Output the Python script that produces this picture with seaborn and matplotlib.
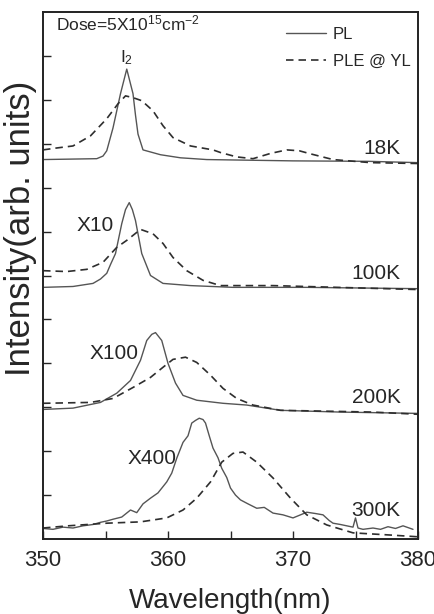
import numpy as np
import pandas as pd
import matplotlib
matplotlib.use("Agg")
import matplotlib.pyplot as plt
import seaborn as sns
from matplotlib.lines import Line2D

# ==========================================
# Data (stacked, offset spectra)
# ==========================================

wl_pl_18 = [350.0, 354.3, 354.8, 355.1, 355.6, 355.9, 356.2, 356.7, 357.2, 357.4, 357.6, 358.0, 359.4, 361.0,
            363.1, 370.0, 376.0, 380.0]
pl_18 = [8.64, 8.66, 8.72, 8.84, 9.36, 9.75, 10.14, 10.7, 10.14, 9.65, 9.22, 8.86, 8.75, 8.68,
         8.64, 8.61, 8.60, 8.57]

wl_ple_18 = [350.0, 351.0, 352.4, 353.8, 355.1, 356.0, 356.6, 357.2, 357.9, 358.8, 359.6, 360.4, 361.8, 363.6,
             364.2, 365.5, 366.8, 368.2, 369.5, 370.5, 371.4, 373.2, 376.2, 380.0]
ple_18 = [8.86, 8.90, 8.95, 9.18, 9.57, 9.91, 10.09, 10.05, 9.98, 9.75, 9.41, 9.14, 8.95, 8.86,
          8.80, 8.70, 8.66, 8.78, 8.86, 8.84, 8.77, 8.64, 8.57, 8.55]

wl_pl_100 = [350.0, 352.4, 354.0, 354.6, 355.1, 355.4, 355.8, 356.3, 356.6, 356.9, 357.15, 357.4, 357.6, 357.9,
             358.6, 359.6, 361.8, 365.2, 371.1, 380.0]
pl_100 = [5.73, 5.75, 5.82, 5.92, 6.05, 6.25, 6.50, 7.18, 7.50, 7.66, 7.50, 7.25, 6.95, 6.50,
          6.00, 5.82, 5.77, 5.73, 5.73, 5.70]

wl_ple_100 = [350.0, 351.9, 353.5, 354.8, 355.9, 356.7, 357.8, 358.8, 359.6, 360.4, 361.5, 362.8, 364.2, 368.4, 380.0]
ple_100 = [6.11, 6.09, 6.14, 6.30, 6.64, 6.80, 7.05, 6.95, 6.73, 6.41, 6.11, 5.89, 5.77, 5.77, 5.68]

wl_pl_200 = [350.0, 352.4, 354.6, 355.9, 357.0, 357.8, 358.3, 358.7, 359.0, 359.5, 360.0, 360.6, 361.2, 362.3,
             364.4, 366.3, 369.0, 373.8, 380.0]
pl_200 = [2.95, 2.98, 3.11, 3.32, 3.61, 4.07, 4.52, 4.66, 4.70, 4.52, 4.00, 3.55, 3.27, 3.16,
          3.09, 3.05, 2.93, 2.89, 2.86]

wl_ple_200 = [350.0, 353.8, 355.6, 357.2, 358.6, 359.6, 360.4, 361.4, 362.3, 363.4, 364.4, 365.5, 366.8, 369.0,
              376.4, 380.0]
ple_200 = [3.09, 3.11, 3.20, 3.45, 3.68, 3.91, 4.09, 4.14, 4.02, 3.73, 3.43, 3.20, 3.05, 2.93,
           2.89, 2.84]

wl_pl_300 = [350.0, 350.8, 351.6, 352.4, 353.2, 354.0, 354.6, 355.1, 355.6, 356.3, 357.0, 357.5, 358.0, 358.6,
             359.2, 359.9, 360.3, 360.7, 361.2, 361.6, 361.9, 362.2, 362.5, 362.8, 363.0, 363.3, 363.6, 364.0,
             364.3, 364.7, 365.0, 365.4, 365.8, 366.4, 367.1, 367.7, 368.4, 369.2, 370.0, 370.6, 371.1, 371.8,
             372.4, 372.9, 373.2, 373.8, 374.3, 374.8, 375.0, 375.2, 375.6, 376.4, 377.0, 377.6, 378.2, 378.8,
             379.1, 379.6]
pl_300 = [0.24, 0.22, 0.27, 0.25, 0.30, 0.33, 0.38, 0.41, 0.45, 0.50, 0.66, 0.60, 0.80, 0.93,
          1.05, 1.30, 1.50, 1.84, 2.20, 2.35, 2.64, 2.70, 2.75, 2.72, 2.64, 2.35, 2.07, 1.85,
          1.61, 1.40, 1.16, 1.00, 0.89, 0.80, 0.70, 0.72, 0.59, 0.55, 0.48, 0.55, 0.61, 0.58,
          0.55, 0.42, 0.36, 0.33, 0.30, 0.27, 0.48, 0.25, 0.22, 0.25, 0.22, 0.28, 0.24, 0.30,
          0.27, 0.22]

wl_ple_300 = [350.0, 352.0, 355.1, 357.8, 359.9, 361.2, 362.3, 363.4, 364.3, 365.2, 366.0, 367.1, 368.4, 369.8,
              371.1, 372.7, 374.8, 377.8, 380.0]
ple_300 = [0.25, 0.30, 0.36, 0.39, 0.48, 0.66, 0.93, 1.30, 1.75, 1.95, 1.98, 1.75, 1.39, 0.93,
           0.55, 0.32, 0.14, 0.09, 0.05]

temp_labels = ["18K", "100K", "200K", "300K"]
temp_label_y = [8.9, 6.05, 3.23, 0.66]
scale_labels = ["X10", "X100", "X400"]
scale_label_x = [354.2, 355.7, 358.7]
scale_label_y = [7.14, 4.22, 1.84]

# ==========================================
# Plot
# ==========================================

sns.set_style("ticks")
plt.rcParams["font.family"] = ["Liberation Sans", "DejaVu Sans"]
plt.rcParams["mathtext.fontset"] = "custom"
plt.rcParams["mathtext.rm"] = "Liberation Sans"
plt.rcParams["mathtext.it"] = "Liberation Sans"

fig = plt.figure(figsize=(4.35, 6.14), dpi=100)
ax = fig.add_axes([43 / 435, 75 / 614, 375 / 435, 527 / 614])

pl_color = "#555555"
ple_color = "#2e2e2e"

pl_sets = [(wl_pl_18, pl_18), (wl_pl_100, pl_100), (wl_pl_200, pl_200), (wl_pl_300, pl_300)]
ple_sets = [(wl_ple_18, ple_18), (wl_ple_100, ple_100), (wl_ple_200, ple_200), (wl_ple_300, ple_300)]

for wl, val in pl_sets:
    sns.lineplot(x=wl, y=val, ax=ax, color=pl_color, linewidth=1.0,
                 estimator=None, sort=False)

for wl, val in ple_sets:
    sns.lineplot(x=wl, y=val, ax=ax, color=ple_color, linewidth=1.2,
                 estimator=None, sort=False, dashes=False)
    ax.lines[-1].set_dashes([4.5, 3])

ax.set_xlim(350, 380)
ax.set_ylim(0, 12)
ax.set_xticks([350, 360, 370, 380])
ax.set_xticks([355, 365, 375], minor=True)
ax.set_yticks(range(1, 12))
ax.set_yticklabels([])
ax.tick_params(axis="both", which="both", direction="in", length=6, width=1.0,
               top=False, right=False)
ax.tick_params(axis="x", labelsize=16, pad=8)
for s in ax.spines.values():
    s.set_linewidth(1.4)
    s.set_color("#222222")

ax.set_xlabel("Wavelength(nm)", fontsize=20, labelpad=12)
ax.set_ylabel("Intensity(arb. units)", fontsize=25)
ax.yaxis.set_label_coords(-0.017, 0.59)

for lab, yy in zip(temp_labels, temp_label_y):
    ax.text(378.6, yy, lab, fontsize=15, ha="right", va="center")
for lab, xx, yy in zip(scale_labels, scale_label_x, scale_label_y):
    ax.text(xx, yy, lab, fontsize=15, ha="center", va="center")

ax.text(351.0, 11.57, r"Dose=5X10$^{15}$cm$^{-2}$", fontsize=12.5, ha="left", va="baseline")
ax.text(356.7, 10.75, r"I$_2$", fontsize=12.5, ha="center", va="bottom")

handles = [Line2D([], [], color=pl_color, linewidth=1.0, label="PL"),
           Line2D([], [], color=ple_color, linewidth=1.2, dashes=[4.5, 3], label="PLE @ YL")]
ax.legend(handles=handles, loc="upper left", bbox_to_anchor=(0.648, 0.972),
          frameon=False, fontsize=12, handlelength=2.4, handletextpad=0.4,
          labelspacing=0.75, borderpad=0, borderaxespad=0)

plt.savefig("out.png", dpi=100)
